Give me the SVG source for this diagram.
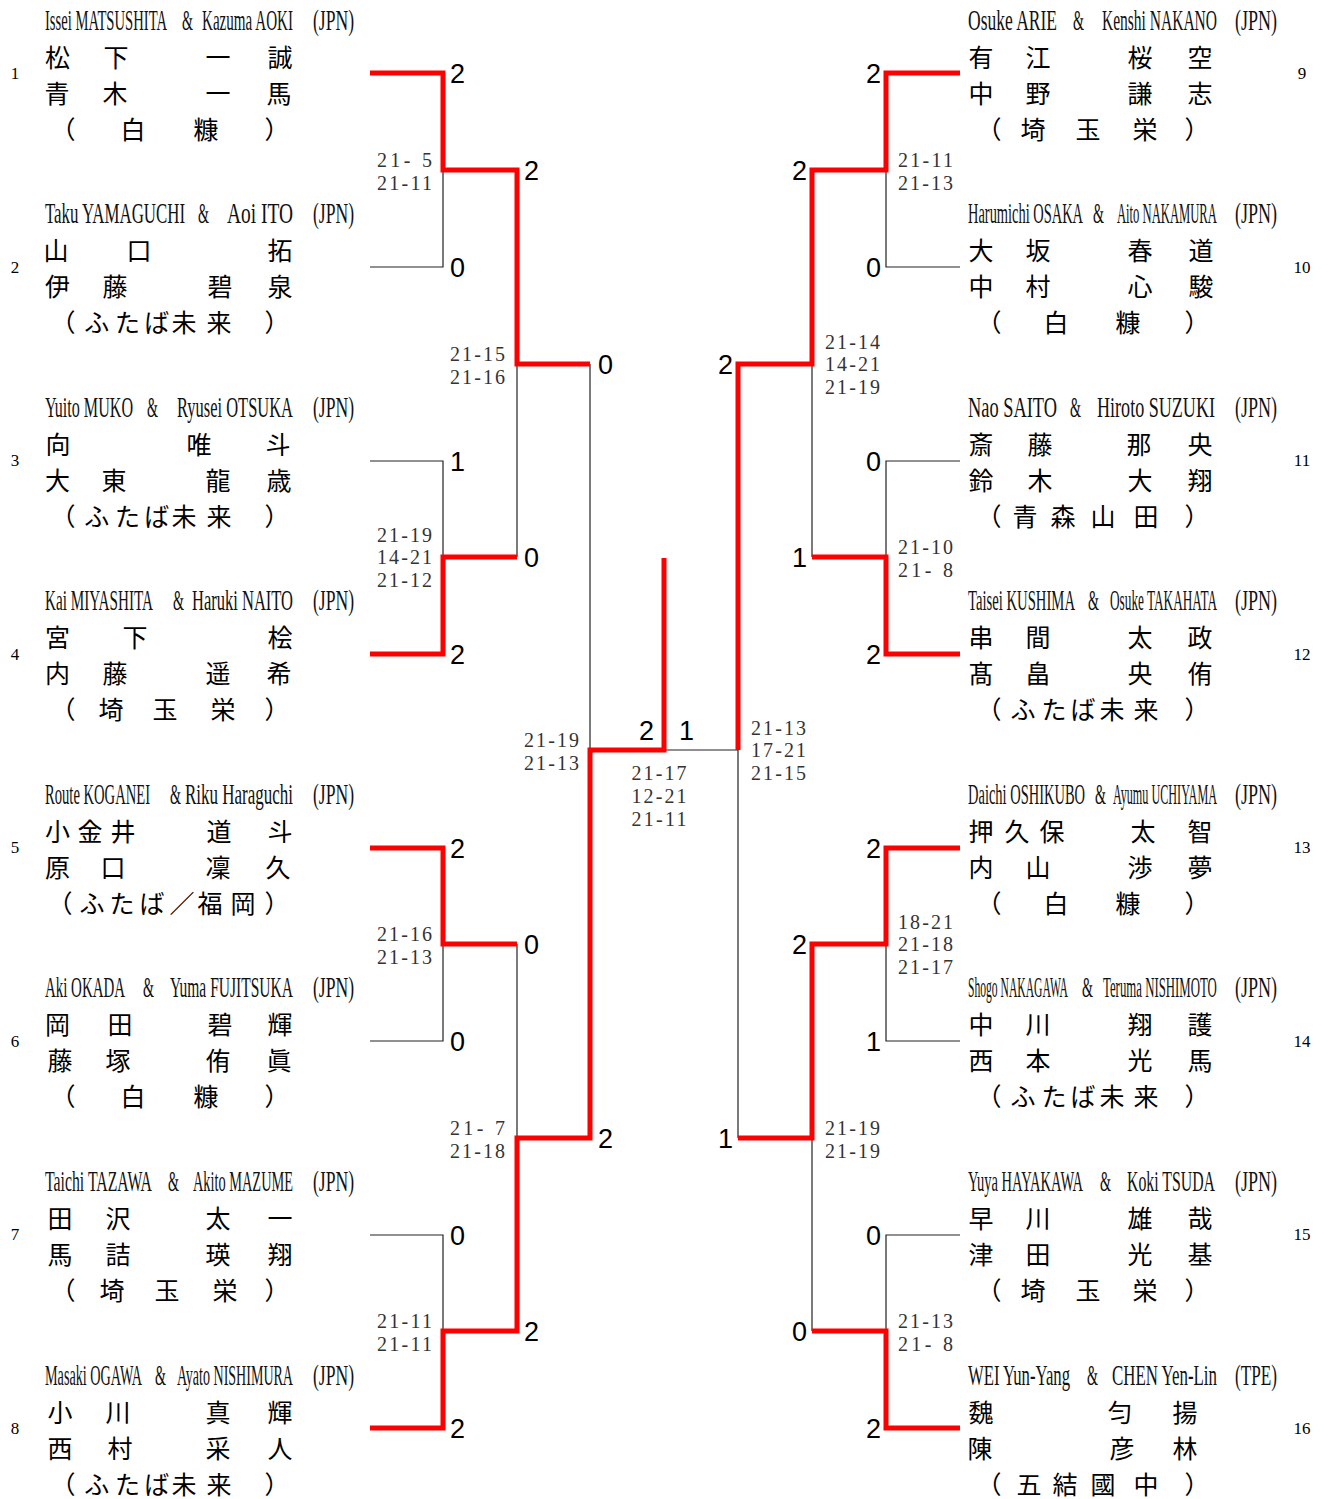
<svg xmlns="http://www.w3.org/2000/svg" width="1331" height="1499" viewBox="0 0 1331 1499">
<style>
.en{font-family:"Liberation Serif",serif;font-size:30px;fill:#111}
.jp{font-family:"Noto Sans CJK JP",sans-serif;font-size:25px;text-anchor:middle;fill:#000}
.num{font-family:"Liberation Serif",serif;font-size:17px;text-anchor:middle;fill:#000}
.sc{font-family:"Liberation Serif",serif;font-size:20px;fill:#333}
.big{font-family:"Liberation Sans",Arial,sans-serif;font-size:27px;fill:#000}
.e{text-anchor:end}
.m{text-anchor:middle}
.red{stroke:#ff0000;stroke-width:5;fill:none;stroke-linejoin:miter}
.thin{stroke:#222;stroke-width:1.2;fill:none}
</style>
<rect width="1331" height="1499" fill="#fff"/>

<g id="connectors">
<path class="thin" d="M370,267H443V170"/>
<path class="thin" d="M370,461H443V557"/>
<path class="thin" d="M517,364V557"/>
<path class="thin" d="M590,364V750"/>
<path class="thin" d="M370,1041H443V944"/>
<path class="thin" d="M370,1235H443V1331"/>
<path class="thin" d="M517,944V1138"/>
<path class="thin" d="M960,267H886V170"/>
<path class="thin" d="M960,461H886V557"/>
<path class="thin" d="M812,364V557"/>
<path class="thin" d="M960,1041H886V944"/>
<path class="thin" d="M960,1235H886V1331"/>
<path class="thin" d="M812,1138V1331"/>
<path class="thin" d="M738,1138V750H664"/>
<path class="red" d="M370,73H443V170H517V364H590"/>
<path class="red" d="M370,654H443V557H517"/>
<path class="red" d="M370,848H443V944H517"/>
<path class="red" d="M370,1428H443V1331H517V1138H590V750H664V558"/>
<path class="red" d="M960,73H886V170H812V364H738V750"/>
<path class="red" d="M960,654H886V557H812"/>
<path class="red" d="M960,848H886V944H812V1138H738"/>
<path class="red" d="M960,1428H886V1331H812"/>
</g>

<g id="round-scores">
<text class="big" x="450" y="83">2</text>
<text class="big" x="450" y="277">0</text>
<text class="big" x="450" y="471">1</text>
<text class="big" x="450" y="664">2</text>
<text class="big" x="450" y="858">2</text>
<text class="big" x="450" y="1051">0</text>
<text class="big" x="450" y="1245">0</text>
<text class="big" x="450" y="1438">2</text>
<text class="big" x="524" y="180">2</text>
<text class="big" x="524" y="567">0</text>
<text class="big" x="524" y="954">0</text>
<text class="big" x="524" y="1341">2</text>
<text class="big" x="598" y="374">0</text>
<text class="big" x="598" y="1148">2</text>
<text class="big e" x="654" y="740">2</text>
<text class="big" x="679" y="740">1</text>
<text class="big e" x="881" y="83">2</text>
<text class="big e" x="881" y="277">0</text>
<text class="big e" x="881" y="471">0</text>
<text class="big e" x="881" y="664">2</text>
<text class="big e" x="881" y="858">2</text>
<text class="big e" x="881" y="1051">1</text>
<text class="big e" x="881" y="1245">0</text>
<text class="big e" x="881" y="1438">2</text>
<text class="big e" x="807" y="180">2</text>
<text class="big e" x="807" y="567">1</text>
<text class="big e" x="807" y="954">2</text>
<text class="big e" x="807" y="1341">0</text>
<text class="big e" x="733" y="374">2</text>
<text class="big e" x="733" y="1148">1</text>
</g>

<g id="game-scores">
<text class="sc e" x="432" y="167" textLength="55">21- 5</text>
<text class="sc e" x="432" y="189.5" textLength="55">21-11</text>
<text class="sc e" x="432" y="541.5" textLength="55">21-19</text>
<text class="sc e" x="432" y="564" textLength="55">14-21</text>
<text class="sc e" x="432" y="586.5" textLength="55">21-12</text>
<text class="sc e" x="432" y="941" textLength="55">21-16</text>
<text class="sc e" x="432" y="963.5" textLength="55">21-13</text>
<text class="sc e" x="432" y="1328" textLength="55">21-11</text>
<text class="sc e" x="432" y="1350.5" textLength="55">21-11</text>
<text class="sc e" x="505" y="361" textLength="55">21-15</text>
<text class="sc e" x="505" y="383.5" textLength="55">21-16</text>
<text class="sc e" x="505" y="1135" textLength="55">21- 7</text>
<text class="sc e" x="505" y="1157.5" textLength="55">21-18</text>
<text class="sc e" x="579" y="747" textLength="55">21-19</text>
<text class="sc e" x="579" y="769.5" textLength="55">21-13</text>
<text class="sc m" x="659" y="780" textLength="55">21-17</text>
<text class="sc m" x="659" y="803" textLength="55">12-21</text>
<text class="sc m" x="659" y="826" textLength="55">21-11</text>
<text class="sc" x="751" y="734.5" textLength="55">21-13</text>
<text class="sc" x="751" y="757" textLength="55">17-21</text>
<text class="sc" x="751" y="779.5" textLength="55">21-15</text>
<text class="sc" x="825" y="348.5" textLength="55">21-14</text>
<text class="sc" x="825" y="371" textLength="55">14-21</text>
<text class="sc" x="825" y="393.5" textLength="55">21-19</text>
<text class="sc" x="825" y="1135" textLength="55">21-19</text>
<text class="sc" x="825" y="1157.5" textLength="55">21-19</text>
<text class="sc" x="898" y="167" textLength="55">21-11</text>
<text class="sc" x="898" y="189.5" textLength="55">21-13</text>
<text class="sc" x="898" y="554" textLength="55">21-10</text>
<text class="sc" x="898" y="576.5" textLength="55">21- 8</text>
<text class="sc" x="898" y="928.5" textLength="55">18-21</text>
<text class="sc" x="898" y="951" textLength="55">21-18</text>
<text class="sc" x="898" y="973.5" textLength="55">21-17</text>
<text class="sc" x="898" y="1328" textLength="55">21-13</text>
<text class="sc" x="898" y="1350.5" textLength="55">21- 8</text>
</g>

<g id="node-1">
<text class="num" x="15" y="79">1</text>
<text class="en" transform="translate(45,29.5) scale(.5,1)" textLength="244" lengthAdjust="spacingAndGlyphs">Issei MATSUSHITA</text>
<text class="en" transform="translate(182,29.5) scale(.5,1)" textLength="22" lengthAdjust="spacingAndGlyphs">&amp;</text>
<text class="en" transform="translate(202,29.5) scale(.5,1)" textLength="182" lengthAdjust="spacingAndGlyphs">Kazuma AOKI</text>
<text class="en" transform="translate(313,29.5) scale(.5,1)" textLength="82" lengthAdjust="spacingAndGlyphs">(JPN)</text>
<text class="jp" x="57.5 116 218 280" y="66.5">松下一誠</text>
<text class="jp" x="57 115 218 279" y="102.5">青木一馬</text>
<text class="jp" x="63 133 206 277" y="138.5">（白糠）</text>
</g>

<g id="node-2" transform="translate(0,193.57)">
<text class="num" x="15" y="79">2</text>
<text class="en" transform="translate(45,29.5) scale(.5,1)" textLength="280" lengthAdjust="spacingAndGlyphs">Taku YAMAGUCHI</text>
<text class="en" transform="translate(198,29.5) scale(.5,1)" textLength="22" lengthAdjust="spacingAndGlyphs">&amp;</text>
<text class="en" transform="translate(227,29.5) scale(.5,1)" textLength="132" lengthAdjust="spacingAndGlyphs">Aoi ITO</text>
<text class="en" transform="translate(313,29.5) scale(.5,1)" textLength="82" lengthAdjust="spacingAndGlyphs">(JPN)</text>
<text class="jp" x="56 139 280" y="66.5">山口拓</text>
<text class="jp" x="57.5 115 220 280" y="102.5">伊藤碧泉</text>
<text class="jp" x="63 96.7 127.5 156.7 184 219 277" y="138.5">（ふたば未来）</text>
</g>

<g id="node-3" transform="translate(0,387.14)">
<text class="num" x="15" y="79">3</text>
<text class="en" transform="translate(45,29.5) scale(.5,1)" textLength="176" lengthAdjust="spacingAndGlyphs">Yuito MUKO</text>
<text class="en" transform="translate(147,29.5) scale(.5,1)" textLength="22" lengthAdjust="spacingAndGlyphs">&amp;</text>
<text class="en" transform="translate(177,29.5) scale(.5,1)" textLength="232" lengthAdjust="spacingAndGlyphs">Ryusei OTSUKA</text>
<text class="en" transform="translate(313,29.5) scale(.5,1)" textLength="82" lengthAdjust="spacingAndGlyphs">(JPN)</text>
<text class="jp" x="58 199 278" y="66.5">向唯斗</text>
<text class="jp" x="57.5 114 218 279" y="102.5">大東龍歳</text>
<text class="jp" x="63 96.7 127.5 156.7 184 219 277" y="138.5">（ふたば未来）</text>
</g>

<g id="node-4" transform="translate(0,580.71)">
<text class="num" x="15" y="79">4</text>
<text class="en" transform="translate(45,29.5) scale(.5,1)" textLength="216" lengthAdjust="spacingAndGlyphs">Kai MIYASHITA</text>
<text class="en" transform="translate(173,29.5) scale(.5,1)" textLength="22" lengthAdjust="spacingAndGlyphs">&amp;</text>
<text class="en" transform="translate(192,29.5) scale(.5,1)" textLength="202" lengthAdjust="spacingAndGlyphs">Haruki NAITO</text>
<text class="en" transform="translate(313,29.5) scale(.5,1)" textLength="82" lengthAdjust="spacingAndGlyphs">(JPN)</text>
<text class="jp" x="57.5 135 280" y="66.5">宮下桧</text>
<text class="jp" x="57.5 115 218 279" y="102.5">内藤遥希</text>
<text class="jp" x="63 111 165 223 277" y="138.5">（埼玉栄）</text>
</g>

<g id="node-5" transform="translate(0,774.29)">
<text class="num" x="15" y="79">5</text>
<text class="en" transform="translate(45,29.5) scale(.5,1)" textLength="210" lengthAdjust="spacingAndGlyphs">Route KOGANEI</text>
<text class="en" transform="translate(170,29.5) scale(.5,1)" textLength="22" lengthAdjust="spacingAndGlyphs">&amp;</text>
<text class="en" transform="translate(185,29.5) scale(.5,1)" textLength="216" lengthAdjust="spacingAndGlyphs">Riku Haraguchi</text>
<text class="en" transform="translate(313,29.5) scale(.5,1)" textLength="82" lengthAdjust="spacingAndGlyphs">(JPN)</text>
<text class="jp" x="57.5 90 123 219 280" y="66.5">小金井道斗</text>
<text class="jp" x="57.5 113 218 278" y="102.5">原口凜久</text>
<text class="jp" x="60 92 122 152 182 210 243 277" y="138.5">（ふたば／福岡）</text>
</g>

<g id="node-6" transform="translate(0,967.86)">
<text class="num" x="15" y="79">6</text>
<text class="en" transform="translate(45,29.5) scale(.5,1)" textLength="160" lengthAdjust="spacingAndGlyphs">Aki OKADA</text>
<text class="en" transform="translate(143,29.5) scale(.5,1)" textLength="22" lengthAdjust="spacingAndGlyphs">&amp;</text>
<text class="en" transform="translate(170,29.5) scale(.5,1)" textLength="246" lengthAdjust="spacingAndGlyphs">Yuma FUJITSUKA</text>
<text class="en" transform="translate(313,29.5) scale(.5,1)" textLength="82" lengthAdjust="spacingAndGlyphs">(JPN)</text>
<text class="jp" x="57.5 120 220 280" y="66.5">岡田碧輝</text>
<text class="jp" x="60 118 218 279" y="102.5">藤塚侑眞</text>
<text class="jp" x="63 133 206 277" y="138.5">（白糠）</text>
</g>

<g id="node-7" transform="translate(0,1161.43)">
<text class="num" x="15" y="79">7</text>
<text class="en" transform="translate(45,29.5) scale(.5,1)" textLength="214" lengthAdjust="spacingAndGlyphs">Taichi TAZAWA</text>
<text class="en" transform="translate(168,29.5) scale(.5,1)" textLength="22" lengthAdjust="spacingAndGlyphs">&amp;</text>
<text class="en" transform="translate(193,29.5) scale(.5,1)" textLength="200" lengthAdjust="spacingAndGlyphs">Akito MAZUME</text>
<text class="en" transform="translate(313,29.5) scale(.5,1)" textLength="82" lengthAdjust="spacingAndGlyphs">(JPN)</text>
<text class="jp" x="60 118 218 280" y="66.5">田沢太一</text>
<text class="jp" x="60 118 218 280" y="102.5">馬詰瑛翔</text>
<text class="jp" x="63 112 167 225 277" y="138.5">（埼玉栄）</text>
</g>

<g id="node-8" transform="translate(0,1355)">
<text class="num" x="15" y="79">8</text>
<text class="en" transform="translate(45,29.5) scale(.5,1)" textLength="194" lengthAdjust="spacingAndGlyphs">Masaki OGAWA</text>
<text class="en" transform="translate(155,29.5) scale(.5,1)" textLength="22" lengthAdjust="spacingAndGlyphs">&amp;</text>
<text class="en" transform="translate(177,29.5) scale(.5,1)" textLength="232" lengthAdjust="spacingAndGlyphs">Ayato NISHIMURA</text>
<text class="en" transform="translate(313,29.5) scale(.5,1)" textLength="82" lengthAdjust="spacingAndGlyphs">(JPN)</text>
<text class="jp" x="60 118 218 280" y="66.5">小川真輝</text>
<text class="jp" x="60 120 218 280" y="102.5">西村采人</text>
<text class="jp" x="63 96.7 127.5 156.7 184 219 277" y="138.5">（ふたば未来）</text>
</g>

<g id="node-9">
<text class="num" x="1302" y="79">9</text>
<text class="en" transform="translate(968,29.5) scale(.5,1)" textLength="178" lengthAdjust="spacingAndGlyphs">Osuke ARIE</text>
<text class="en" transform="translate(1073,29.5) scale(.5,1)" textLength="22" lengthAdjust="spacingAndGlyphs">&amp;</text>
<text class="en" transform="translate(1102,29.5) scale(.5,1)" textLength="230" lengthAdjust="spacingAndGlyphs">Kenshi NAKANO</text>
<text class="en" transform="translate(1235,29.5) scale(.5,1)" textLength="84" lengthAdjust="spacingAndGlyphs">(JPN)</text>
<text class="jp" x="981 1038 1140 1200" y="66.5">有江桜空</text>
<text class="jp" x="981 1038 1140 1200" y="102.5">中野謙志</text>
<text class="jp" x="989 1033 1088 1145 1197" y="138.5">（埼玉栄）</text>
</g>

<g id="node-10" transform="translate(0,193.57)">
<text class="num" x="1302" y="79">10</text>
<text class="en" transform="translate(968,29.5) scale(.5,1)" textLength="230" lengthAdjust="spacingAndGlyphs">Harumichi OSAKA</text>
<text class="en" transform="translate(1093,29.5) scale(.5,1)" textLength="22" lengthAdjust="spacingAndGlyphs">&amp;</text>
<text class="en" transform="translate(1117,29.5) scale(.45,1)" textLength="222" lengthAdjust="spacingAndGlyphs">Aito NAKAMURA</text>
<text class="en" transform="translate(1235,29.5) scale(.5,1)" textLength="84" lengthAdjust="spacingAndGlyphs">(JPN)</text>
<text class="jp" x="981 1038 1140 1201" y="66.5">大坂春道</text>
<text class="jp" x="981 1038 1140 1201" y="102.5">中村心駿</text>
<text class="jp" x="989 1056 1128 1197" y="138.5">（白糠）</text>
</g>

<g id="node-11" transform="translate(0,387.14)">
<text class="num" x="1302" y="79">11</text>
<text class="en" transform="translate(968,29.5) scale(.5,1)" textLength="178" lengthAdjust="spacingAndGlyphs">Nao SAITO</text>
<text class="en" transform="translate(1070,29.5) scale(.5,1)" textLength="22" lengthAdjust="spacingAndGlyphs">&amp;</text>
<text class="en" transform="translate(1097,29.5) scale(.5,1)" textLength="236" lengthAdjust="spacingAndGlyphs">Hiroto SUZUKI</text>
<text class="en" transform="translate(1235,29.5) scale(.5,1)" textLength="84" lengthAdjust="spacingAndGlyphs">(JPN)</text>
<text class="jp" x="981 1040 1139 1200" y="66.5">斎藤那央</text>
<text class="jp" x="981 1040 1140 1200" y="102.5">鈴木大翔</text>
<text class="jp" x="989 1025 1063 1103 1146 1197" y="138.5">（青森山田）</text>
</g>

<g id="node-12" transform="translate(0,580.71)">
<text class="num" x="1302" y="79">12</text>
<text class="en" transform="translate(968,29.5) scale(.5,1)" textLength="214" lengthAdjust="spacingAndGlyphs">Taisei KUSHIMA</text>
<text class="en" transform="translate(1088,29.5) scale(.5,1)" textLength="22" lengthAdjust="spacingAndGlyphs">&amp;</text>
<text class="en" transform="translate(1110,29.5) scale(.45,1)" textLength="238" lengthAdjust="spacingAndGlyphs">Osuke TAKAHATA</text>
<text class="en" transform="translate(1235,29.5) scale(.5,1)" textLength="84" lengthAdjust="spacingAndGlyphs">(JPN)</text>
<text class="jp" x="981 1038 1140 1200" y="66.5">串間太政</text>
<text class="jp" x="981 1038 1140 1200" y="102.5">髙畠央侑</text>
<text class="jp" x="989 1023 1054 1083 1112 1146 1197" y="138.5">（ふたば未来）</text>
</g>

<g id="node-13" transform="translate(0,774.29)">
<text class="num" x="1302" y="79">13</text>
<text class="en" transform="translate(968,29.5) scale(.5,1)" textLength="234" lengthAdjust="spacingAndGlyphs">Daichi OSHIKUBO</text>
<text class="en" transform="translate(1095,29.5) scale(.5,1)" textLength="22" lengthAdjust="spacingAndGlyphs">&amp;</text>
<text class="en" transform="translate(1113,29.5) scale(.4,1)" textLength="260" lengthAdjust="spacingAndGlyphs">Ayumu UCHIYAMA</text>
<text class="en" transform="translate(1235,29.5) scale(.5,1)" textLength="84" lengthAdjust="spacingAndGlyphs">(JPN)</text>
<text class="jp" x="981 1017 1052 1143 1200" y="66.5">押久保太智</text>
<text class="jp" x="981 1038 1140 1200" y="102.5">内山渉夢</text>
<text class="jp" x="989 1056 1128 1197" y="138.5">（白糠）</text>
</g>

<g id="node-14" transform="translate(0,967.86)">
<text class="num" x="1302" y="79">14</text>
<text class="en" transform="translate(968,29.5) scale(.38,1)" textLength="263" lengthAdjust="spacingAndGlyphs">Shogo NAKAGAWA</text>
<text class="en" transform="translate(1082,29.5) scale(.5,1)" textLength="22" lengthAdjust="spacingAndGlyphs">&amp;</text>
<text class="en" transform="translate(1103,29.5) scale(.42,1)" textLength="271" lengthAdjust="spacingAndGlyphs">Teruma NISHIMOTO</text>
<text class="en" transform="translate(1235,29.5) scale(.5,1)" textLength="84" lengthAdjust="spacingAndGlyphs">(JPN)</text>
<text class="jp" x="981 1038 1140 1200" y="66.5">中川翔護</text>
<text class="jp" x="981 1038 1140 1200" y="102.5">西本光馬</text>
<text class="jp" x="989 1023 1054 1083 1112 1146 1197" y="138.5">（ふたば未来）</text>
</g>

<g id="node-15" transform="translate(0,1161.43)">
<text class="num" x="1302" y="79">15</text>
<text class="en" transform="translate(968,29.5) scale(.5,1)" textLength="230" lengthAdjust="spacingAndGlyphs">Yuya HAYAKAWA</text>
<text class="en" transform="translate(1100,29.5) scale(.5,1)" textLength="22" lengthAdjust="spacingAndGlyphs">&amp;</text>
<text class="en" transform="translate(1127,29.5) scale(.5,1)" textLength="176" lengthAdjust="spacingAndGlyphs">Koki TSUDA</text>
<text class="en" transform="translate(1235,29.5) scale(.5,1)" textLength="84" lengthAdjust="spacingAndGlyphs">(JPN)</text>
<text class="jp" x="981 1038 1140 1200" y="66.5">早川雄哉</text>
<text class="jp" x="981 1038 1140 1200" y="102.5">津田光基</text>
<text class="jp" x="989 1033 1088 1145 1197" y="138.5">（埼玉栄）</text>
</g>

<g id="node-16" transform="translate(0,1355)">
<text class="num" x="1302" y="79">16</text>
<text class="en" transform="translate(968,29.5) scale(.5,1)" textLength="204" lengthAdjust="spacingAndGlyphs">WEI Yun-Yang</text>
<text class="en" transform="translate(1087,29.5) scale(.5,1)" textLength="22" lengthAdjust="spacingAndGlyphs">&amp;</text>
<text class="en" transform="translate(1112,29.5) scale(.5,1)" textLength="210" lengthAdjust="spacingAndGlyphs">CHEN Yen-Lin</text>
<text class="en" transform="translate(1235,29.5) scale(.5,1)" textLength="84" lengthAdjust="spacingAndGlyphs">(TPE)</text>
<text class="jp" x="981 1120 1185" y="66.5">魏匀揚</text>
<text class="jp" x="980 1122 1185" y="102.5">陳彦林</text>
<text class="jp" x="989 1029 1065 1103 1146 1197" y="138.5">（五結國中）</text>
</g>
</svg>
